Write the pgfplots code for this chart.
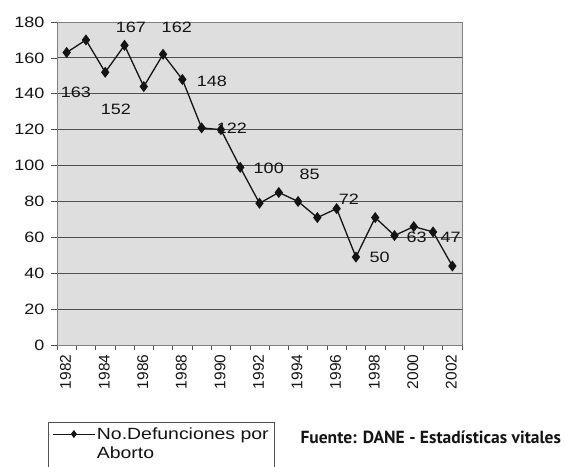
\documentclass[border=0pt]{standalone}
\usepackage{pgfplots}
\pgfplotsset{compat=1.18}
\usepackage{fontspec}
\setmainfont{Liberation Sans}
\newfontfamily\chartfont[FakeStretch=1.2]{Liberation Sans}
\newfontfamily\srcfont{PT Sans}
\definecolor{plotbg}{RGB}{222,222,222}
\definecolor{gridc}{RGB}{80,80,80}
\definecolor{inkc}{RGB}{20,20,20}

\begin{document}
\begin{tikzpicture}
\useasboundingbox (0pt,0pt) rectangle (565pt,466pt);
\begin{axis}[
    at={(57pt,121pt)}, anchor=south west,
    width=405pt, height=323pt, scale only axis,
    xmin=1981.5, xmax=2002.5,
    ymin=0, ymax=180,
    xtick={1982,1984,...,2002},
    minor xtick={1981.5,1982.5,...,2002.5},
    ytick={0,20,...,180},
    xtick pos=left, ytick pos=left,
    tick align=outside,
    major tick length=6pt, minor tick length=5pt,
    major x tick style={draw=none},
    tick style={gridc, line width=0.7pt},
    ymajorgrids=true,
    grid style={gridc, line width=0.8pt},
    axis line style={gray, line width=0.8pt},
    axis background/.style={fill=plotbg},
    /pgf/number format/assume math mode=true,
    /pgf/number format/1000 sep={},
    x tick label style={rotate=90, anchor=east, inkc, yshift=1pt,
        font=\fontsize{15.5}{15.5}\selectfont},
    y tick label style={inkc, xshift=-3pt,
        font=\chartfont\fontsize{15}{15}\selectfont},
    clip=false,
    legend cell align=left,
    legend style={at={(-0.0222,-0.2384)}, anchor=north west,
        draw=gridc, line width=0.8pt, fill=white,
        font=\chartfont\fontsize{16.2}{16.2}\selectfont, text=inkc,
        row sep=2pt, inner ysep=3pt, inner xsep=4pt,
        nodes={inner xsep=1.5pt}},
    legend image code/.code={
        \draw[mark repeat=2, mark phase=2, #1, line width=1pt, mark size=3.2pt]
            plot coordinates {(0pt,0pt) (21pt,0pt) (42pt,0pt)};},
]
\addplot[inkc, line width=1.3pt, mark=diamond*, mark size=4.5pt,
    mark options={solid, fill=inkc}]
    coordinates {
    (1982,163) (1983,170) (1984,152) (1985,167) (1986,144) (1987,162)
    (1988,148) (1989,121) (1990,120) (1991,99) (1992,79) (1993,85)
    (1994,80) (1995,71) (1996,76) (1997,49) (1998,71) (1999,61)
    (2000,66) (2001,63) (2002,44)};
\addlegendentry{No.Defunciones por}
\addlegendimage{empty legend}
\addlegendentry{Aborto}
\addlegendimage{empty legend}
\addlegendentry{\strut}

% data labels as placed in the original
\begin{scope}[every node/.style={inkc, font=\chartfont\fontsize{15}{15}\selectfont}]
\node at (axis cs:1982.48,140.9) {163};
\node at (axis cs:1985.33,177.3) {167};
\node at (axis cs:1987.71,177.3) {162};
\node at (axis cs:1984.55,131.5) {152};
\node at (axis cs:1989.53,147.2) {148};
\node at (axis cs:1990.57,120.9) {122};
\node at (axis cs:1992.48,98.7) {100};
\node at (axis cs:1994.60,95.3) {85};
\node at (axis cs:1996.63,81.4) {72};
\node at (axis cs:1998.23,49.0) {50};
\node at (axis cs:2000.15,60.1) {63};
\node at (axis cs:2001.91,60.1) {47};
\end{scope}
\end{axis}
\node[anchor=west, inkc, font=\srcfont\bfseries\fontsize{17.5}{17.5}\selectfont]
    at (297pt,29pt) {Fuente: DANE - Estadísticas vitales};
\end{tikzpicture}
\end{document}
